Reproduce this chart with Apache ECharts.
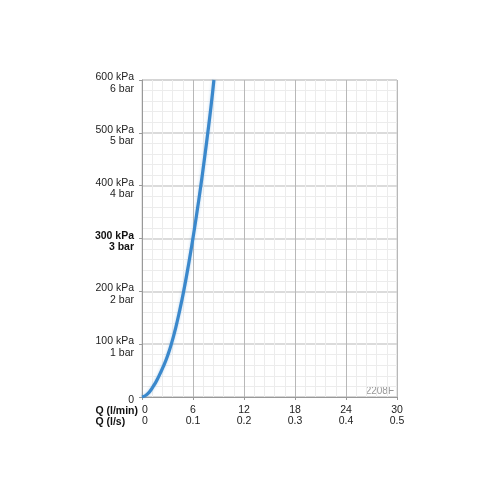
<!DOCTYPE html>
<html><head><meta charset="utf-8">
<script src="https://cdn.jsdelivr.net/npm/echarts@6/dist/echarts.min.js"></script>
<style>html,body{margin:0;padding:0;background:#fff}#c{width:500px;height:500px}</style>
</head><body><div id="c"></div>
<script>
// Flow Q (l/min) and pressure (kPa)
var flowLmin = [0, 0.6, 1.32, 2.0, 2.57, 3.05, 3.45, 3.95, 4.45, 4.9, 5.47, 5.99, 6.47, 6.92, 7.34, 7.74, 8.12, 8.46];
var pressKpa = [0, 5, 20, 40, 60, 80, 100, 130, 165, 200, 250, 300, 350, 400, 450, 500, 550, 600];
// tick labels
var xTickLmin = ['0', '6', '12', '18', '24', '30'];
var xTickLs = ['0', '0.1', '0.2', '0.3', '0.4', '0.5'];
var yTickKpa = ['0', '100 kPa', '200 kPa', '300 kPa', '400 kPa', '500 kPa', '600 kPa'];
var yTickBar = ['', '1 bar', '2 bar', '3 bar', '4 bar', '5 bar', '6 bar'];
var rowTitles = ['Q (l/min)', 'Q (l/s)'];
var codeLabel = '2208F';

var data = flowLmin.map(function (q, i) { return [q, pressKpa[i]]; });
var chart = echarts.init(document.getElementById('c'), null, {renderer: 'canvas'});
var font = 'Liberation Sans, Arial, Helvetica, sans-serif';
chart.setOption({
  animation: false,
  grid: {left: 142, right: 103, top: 80, bottom: 103, show: true, borderColor: '#d0d0d0', borderWidth: 1},
  xAxis: {
    type: 'value', min: 0, max: 30, interval: 6,
    axisLine: {show: true, lineStyle: {color: '#999', width: 1}},
    axisTick: {show: true, length: 3, lineStyle: {color: '#999'}},
    axisLabel: {
      margin: 7, color: '#222', fontFamily: font, fontSize: 10.5, lineHeight: 11.5,
      alignMinLabel: 'left',
      formatter: function (v) { var i = Math.round(v / 6); return xTickLmin[i] + '\n' + xTickLs[i]; }
    },
    splitLine: {show: true, lineStyle: {color: '#b8b8b8', width: 1}},
    minorTick: {show: false, splitNumber: 5},
    minorSplitLine: {show: true, lineStyle: {color: '#ececec', width: 1}}
  },
  yAxis: {
    type: 'value', min: 0, max: 600, interval: 100,
    axisLine: {show: true, lineStyle: {color: '#999', width: 1}},
    axisTick: {show: true, length: 3, lineStyle: {color: '#999'}},
    axisLabel: {
      margin: 8, color: '#222', fontFamily: font, fontSize: 10.5, lineHeight: 11.5, align: 'right',
      padding: [6, 0, 0, 0],
      formatter: function (v) {
        var i = Math.round(v / 100);
        if (i === 0) return yTickKpa[0];
        if (i === 3) return '{b|' + yTickKpa[i] + '}\n{b|' + yTickBar[i] + '}';
        return yTickKpa[i] + '\n' + yTickBar[i];
      },
      rich: {b: {fontWeight: 'bold', fontFamily: font, fontSize: 10.5, lineHeight: 11.5, color: '#111', align: 'right'}}
    },
    splitLine: {show: true, lineStyle: {color: '#cfcfcf', width: 1.5}},
    minorTick: {show: false, splitNumber: 5},
    minorSplitLine: {show: true, lineStyle: {color: '#ececec', width: 1}}
  },
  graphic: [
    {type: 'text', right: 362, top: 405, style: {text: rowTitles[0] + '\n' + rowTitles[1], font: 'bold 10.5px ' + font, lineHeight: 11.5, fill: '#111', align: 'right'}},
    {type: 'text', right: 106, top: 386, style: {text: codeLabel, font: '10px ' + font, fill: '#999'}}
  ],
  series: [{
    type: 'line', data: data, smooth: true, showSymbol: false, clip: true,
    lineStyle: {color: '#3a88cc', width: 3.2, shadowColor: 'rgba(58,136,204,0.35)', shadowBlur: 3}
  }]
});
</script></body></html>
